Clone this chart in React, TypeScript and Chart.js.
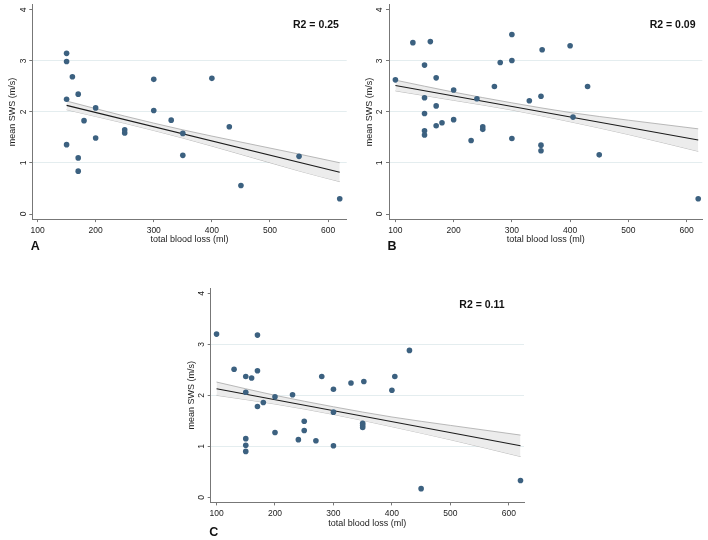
import React, { useEffect, useRef } from "react";
import { Chart, registerables } from "chart.js";

Chart.register(...registerables);

// ---------- data ----------
const xTicks = [100, 200, 300, 400, 500, 600];
const yTicks = [0, 1, 2, 3, 4];

const lossA = [150, 150, 160, 170, 150, 200, 180, 200, 150, 170, 170, 300, 300, 330, 250, 250, 350, 350, 400, 430, 450, 550, 620];
const swsA = [3.15, 2.99, 2.69, 2.35, 2.25, 2.08, 1.83, 1.49, 1.36, 1.1, 0.84, 2.64, 2.03, 1.84, 1.65, 1.59, 1.58, 1.15, 2.66, 1.71, 0.56, 1.13, 0.3];

const lossB = [100, 130, 160, 150, 170, 150, 170, 150, 150, 150, 170, 180, 200, 200, 230, 240, 250, 250, 270, 280, 300, 300, 300, 330, 350, 352, 350, 350, 400, 430, 405, 450, 620];
const swsB = [2.63, 3.36, 3.38, 2.92, 2.67, 2.28, 2.12, 1.97, 1.63, 1.55, 1.73, 1.79, 2.43, 1.85, 1.44, 2.26, 1.71, 1.66, 2.5, 2.97, 3.52, 3.01, 1.48, 2.22, 2.31, 3.22, 1.35, 1.24, 3.3, 2.5, 1.9, 1.16, 0.3];

const lossC = [100, 170, 130, 170, 150, 160, 150, 170, 180, 200, 230, 200, 150, 150, 150, 240, 250, 250, 270, 280, 300, 300, 300, 330, 352, 350, 350, 350, 400, 405, 430, 450, 620];
const swsC = [3.2, 3.18, 2.51, 2.48, 2.37, 2.34, 2.06, 1.78, 1.86, 1.97, 2.01, 1.27, 1.15, 1.02, 0.9, 1.13, 1.49, 1.31, 1.11, 2.37, 2.12, 1.67, 1.01, 2.24, 2.27, 1.45, 1.41, 1.37, 2.1, 2.37, 2.88, 0.17, 0.33];

const fitXA = [150, 620];
const fitYA = [2.13, 0.82];
const fitXB = [100, 620];
const fitYB = [2.52, 1.45];
const fitXC = [100, 620];
const fitYC = [2.13, 1.01];

const bandXA = [150, 250, 350, 450, 550, 620];
const bandUpA = [2.215, 1.92, 1.65, 1.41, 1.175, 1.005];
const bandLoA = [2.045, 1.78, 1.49, 1.17, 0.845, 0.635];

const bandXB = [100, 200, 300, 400, 500, 620];
const bandUpB = [2.625, 2.39, 2.18, 1.99, 1.84, 1.67];
const bandLoB = [2.415, 2.23, 2.04, 1.81, 1.56, 1.23];

const bandXC = [100, 200, 300, 400, 500, 620];
const bandUpC = [2.26, 2.0, 1.775, 1.575, 1.41, 1.22];
const bandLoC = [2.0, 1.83, 1.625, 1.385, 1.13, 0.8];

const r2Labels = ["R2 = 0.25", "R2 = 0.09", "R2 = 0.11"];
const panelLetters = ["A", "B", "C"];
const xTitle = "total blood loss (ml)";
const yTitle = "mean SWS (m/s)";

// ---------- styling / layout ----------
const FONT = '"Liberation Sans", Arial, Helvetica, sans-serif';
const POINT = "#3c6180";
const AXIS = "#777777";
const GRID = "#e4edef";

const zip = (xs: number[], ys: number[]) => xs.map((x, i) => ({ x, y: ys[i] }));

type Panel = {
  x: number[]; y: number[];
  fitX: number[]; fitY: number[];
  bandX: number[]; bandUp: number[]; bandLo: number[];
  r2: string; letter: string;
  xMin: number; xMax: number;
  r2x: number; r2y: number;
  box: { left: number; top: number; w: number; h: number; l: number; t: number; r: number; b: number; letterDy: number; xH: number };
};

const panels: Panel[] = [
  {
    x: lossA, y: swsA, fitX: fitXA, fitY: fitYA, bandX: bandXA, bandUp: bandUpA, bandLo: bandLoA,
    r2: r2Labels[0], letter: panelLetters[0], xMin: 91, xMax: 632, r2x: 579, r2y: 3.71,
    box: { left: 0, top: 0, w: 354, h: 256, l: 32.3, t: 4.9, r: 346.7, b: 219.1, letterDy: 31, xH: 25.6 },
  },
  {
    x: lossB, y: swsB, fitX: fitXB, fitY: fitYB, bandX: bandXB, bandUp: bandUpB, bandLo: bandLoB,
    r2: r2Labels[1], letter: panelLetters[1], xMin: 89, xMax: 627, r2x: 576, r2y: 3.71,
    box: { left: 354, top: 0, w: 354, h: 256, l: 35, t: 4.9, r: 348.3, b: 219.1, letterDy: 31, xH: 25.6 },
  },
  {
    x: lossC, y: swsC, fitX: fitXC, fitY: fitYC, bandX: bandXC, bandUp: bandUpC, bandLo: bandLoC,
    r2: r2Labels[2], letter: panelLetters[2], xMin: 90, xMax: 626, r2x: 554, r2y: 3.76,
    box: { left: 170, top: 260, w: 370, h: 280, l: 40.7, t: 28.2, r: 354, b: 242.4, letterDy: 33.6, xH: 26.4 },
  },
];

const annotPlugin = {
  id: "annot",
  afterDraw(chart: any, _args: any, opts: any) {
    const { ctx, chartArea, scales } = chart;
    ctx.save();
    ctx.fillStyle = "#111";
    ctx.font = `bold 10.5px ${FONT}`;
    ctx.textAlign = "center";
    ctx.textBaseline = "middle";
    ctx.fillText(opts.r2, scales.x.getPixelForValue(opts.r2x), scales.y.getPixelForValue(opts.r2y));
    ctx.font = `bold 12.5px ${FONT}`;
    ctx.textAlign = "left";
    ctx.textBaseline = "alphabetic";
    ctx.fillText(opts.letter, chartArea.left - 1.5, chartArea.bottom + opts.letterDy);
    ctx.restore();
  },
};

function PanelChart({ p }: { p: Panel }) {
  const ref = useRef<HTMLCanvasElement>(null);
  useEffect(() => {
    if (!ref.current) return;
    const bx = p.box;
    const chart = new Chart(ref.current, {
      type: "scatter",
      data: {
        datasets: [
          {
            data: zip(p.x, p.y),
            backgroundColor: POINT,
            borderWidth: 0,
            pointRadius: 2.8,
            order: 0,
          },
          {
            data: zip(p.fitX, p.fitY),
            showLine: true,
            borderColor: "#1b1b1b",
            borderWidth: 1.1,
            pointRadius: 0,
            order: 1,
          },
          {
            data: zip(p.bandX, p.bandUp),
            showLine: true,
            borderColor: "#a8a8a8",
            borderWidth: 0.8,
            pointRadius: 0,
            cubicInterpolationMode: "monotone",
            fill: "+1",
            backgroundColor: "#ececec",
            order: 2,
          },
          {
            data: zip(p.bandX, p.bandLo),
            showLine: true,
            borderColor: "#a8a8a8",
            borderWidth: 0.8,
            pointRadius: 0,
            cubicInterpolationMode: "monotone",
            fill: false,
            order: 3,
          },
        ] as any,
      },
      options: {
        animation: false,
        responsive: false,
        maintainAspectRatio: false,
        events: [],
        layout: {
          padding: { left: bx.l - 32, top: bx.t, right: bx.w - bx.r, bottom: bx.h - bx.b - bx.xH },
        },
        plugins: {
          legend: { display: false },
          tooltip: { enabled: false },
          annot: { r2: p.r2, r2x: p.r2x, r2y: p.r2y, letter: p.letter, letterDy: bx.letterDy },
        } as any,
        scales: {
          x: {
            type: "linear",
            min: p.xMin,
            max: p.xMax,
            afterBuildTicks: (s: any) => { s.ticks = xTicks.map((v) => ({ value: v })); },
            afterFit: (s: any) => { s.height = bx.xH; s.paddingLeft = 0; s.paddingRight = 0; s.paddingTop = 0; s.paddingBottom = 0; },
            grid: { drawOnChartArea: false, drawTicks: true, tickLength: 3, tickColor: AXIS, tickWidth: 1 },
            border: { display: true, color: AXIS, width: 1 },
            ticks: { color: "#222", font: { family: FONT, size: 8.5 }, padding: 3, maxRotation: 0, minRotation: 0 },
            title: { display: true, text: xTitle, color: "#222", font: { family: FONT, size: 9 }, padding: { top: 0, bottom: 0 } },
          },
          y: {
            type: "linear",
            min: -0.1,
            max: 4.1,
            afterBuildTicks: (s: any) => { s.ticks = yTicks.map((v) => ({ value: v })); },
            afterFit: (s: any) => { s.width = 32; s.paddingTop = 0; s.paddingBottom = 0; s.paddingLeft = 0; s.paddingRight = 0; },
            grid: {
              color: (c: any) => (c.tick && [1, 2, 3].includes(c.tick.value) ? GRID : "rgba(0,0,0,0)"),
              lineWidth: 1,
              drawTicks: true,
              tickLength: 3,
              tickColor: AXIS,
              tickWidth: 1,
            },
            border: { display: true, color: AXIS, width: 1 },
            ticks: { color: "#222", font: { family: FONT, size: 8.5 }, padding: 3.5, minRotation: 90, maxRotation: 90, crossAlign: "center" },
            title: { display: true, text: yTitle, color: "#222", font: { family: FONT, size: 9 }, padding: { top: 7.1, bottom: 0 } },
          },
        },
      } as any,
      plugins: [annotPlugin as any],
    });
    return () => chart.destroy();
  }, [p]);
  const bx = p.box;
  return (
    <canvas
      ref={ref}
      width={bx.w}
      height={bx.h}
      style={{ position: "absolute", left: bx.left, top: bx.top, width: bx.w, height: bx.h }}
    />
  );
}

export default function App() {
  return (
    <div style={{ position: "absolute", left: 0, top: 0, width: 708, height: 540, background: "#ffffff", overflow: "hidden" }}>
      {panels.map((p, i) => (
        <PanelChart key={i} p={p} />
      ))}
    </div>
  );
}
